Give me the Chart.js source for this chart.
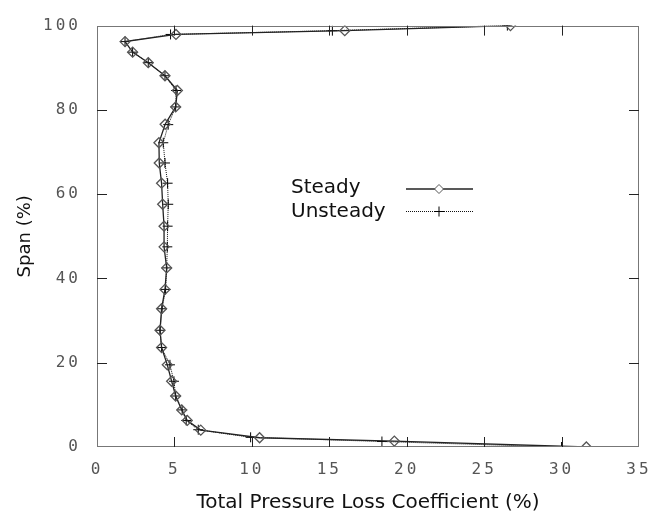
<!DOCTYPE html>
<html>
<head>
<meta charset="utf-8">
<title>Total Pressure Loss Coefficient vs Span</title>
<script src="https://cdn.jsdelivr.net/npm/chart.js@4/dist/chart.umd.min.js"></script>
<style>
  html, body { margin: 0; padding: 0; background: #fff; }
  #wrap { width: 672px; height: 515px; }
</style>
</head>
<body>
<div id="wrap"><canvas id="c" width="672" height="515"></canvas></div>
<script>
// Spanwise stations (% span) and loss coefficient (%) for each case
const steadySpan = [0, 1.4, 2.2, 4.0, 6.3, 8.8, 12.1, 15.6, 19.5, 23.6, 27.7, 32.8, 37.4, 42.5, 47.5, 52.4, 57.6, 62.6, 67.4, 72.2, 76.6, 80.7, 84.6, 88.1, 91.2, 93.7, 96.2, 97.9, 98.8, 100];
const steadyLoss = [31.6, 19.2, 10.5, 6.7, 5.83, 5.47, 5.08, 4.82, 4.54, 4.17, 4.07, 4.17, 4.39, 4.5, 4.33, 4.33, 4.24, 4.17, 4.02, 4.0, 4.4, 5.08, 5.19, 4.39, 3.31, 2.3, 1.81, 5.1, 16.0, 26.7];

const unsteadySpan = [0, 1.3, 2.3, 4.1, 6.3, 8.8, 12.1, 15.6, 19.5, 23.6, 27.7, 32.8, 37.4, 42.5, 47.5, 52.4, 57.6, 62.6, 67.4, 72.2, 76.5, 80.7, 84.6, 88.1, 91.2, 93.7, 96.2, 97.9, 98.8, 100];
const unsteadyLoss = [30.0, 18.4, 9.92, 6.54, 5.76, 5.5, 5.08, 4.97, 4.71, 4.17, 4.07, 4.2, 4.43, 4.5, 4.54, 4.56, 4.6, 4.56, 4.39, 4.28, 4.6, 5.08, 5.1, 4.39, 3.31, 2.3, 1.81, 4.75, 15.2, 26.5];

const seriesNames = ['Steady', 'Unsteady'];
const xTitle = 'Total Pressure Loss Coefficient (%)';
const yTitle = 'Span (%)';

const toPoints = (xs, ys) => xs.map((x, i) => ({ x: x, y: ys[i] }));

// Frame, inward ticks on all four sides, tick-label spacing and the inset key
const framePlugin = {
  id: 'frame',
  beforeDraw(chart) { chart.ctx.letterSpacing = '0px'; },
  afterDatasetsDraw(chart) { chart.ctx.letterSpacing = '3px'; },
  afterDraw(chart) {
    const ctx = chart.ctx;
    ctx.letterSpacing = '0px';
    const a = chart.chartArea;
    const xs = chart.scales.x, ys = chart.scales.y;
    ctx.save();
    ctx.strokeStyle = '#777';
    ctx.lineWidth = 1;
    ctx.strokeRect(Math.round(a.left) + 0.5, Math.round(a.top) + 0.5,
                   Math.round(a.right - a.left) - 1, Math.round(a.bottom - a.top) - 1);
    ctx.strokeStyle = '#222';
    ctx.beginPath();
    const L = 10;
    xs.ticks.forEach(t => {
      const px = Math.round(xs.getPixelForValue(t.value)) + 0.5;
      if (t.value <= xs.min || t.value >= xs.max) return;
      ctx.moveTo(px, a.bottom); ctx.lineTo(px, a.bottom - L);
      ctx.moveTo(px, a.top); ctx.lineTo(px, a.top + L);
    });
    ys.ticks.forEach(t => {
      const py = Math.round(ys.getPixelForValue(t.value)) + 0.5;
      if (t.value <= ys.min || t.value >= ys.max) return;
      ctx.moveTo(a.left, py); ctx.lineTo(a.left + L, py);
      ctx.moveTo(a.right, py); ctx.lineTo(a.right - L, py);
    });
    ctx.stroke();

    // key
    const rows = [{ y: 189, ty: 193 }, { y: 211.5, ty: 216.5 }];
    ctx.font = '20px "DejaVu Sans"';
    ctx.textAlign = 'left';
    ctx.textBaseline = 'alphabetic';
    chart.data.datasets.forEach((ds, i) => {
      const r = rows[i];
      ctx.fillStyle = '#111';
      ctx.fillText(ds.label, 291, r.ty);
      ctx.save();
      ctx.strokeStyle = ds.borderColor;
      ctx.lineWidth = ds.borderWidth;
      ctx.setLineDash(ds.borderDash || []);
      ctx.beginPath();
      ctx.moveTo(406, r.y); ctx.lineTo(473, r.y);
      ctx.stroke();
      ctx.restore();
      ctx.save();
      ctx.strokeStyle = ds.pointBorderColor;
      ctx.fillStyle = '#fff';
      ctx.lineWidth = 1;
      Chart.helpers.drawPoint(ctx, {
        pointStyle: ds.pointStyle, radius: ds.legendRadius,
        borderWidth: 1, rotation: 0
      }, 439, r.y);
      ctx.restore();
    });
    ctx.restore();
  }
};

const tickFont = { family: '"DejaVu Sans Mono", monospace', size: 16 };

new Chart(document.getElementById('c'), {
  type: 'line',
  data: {
    datasets: [
      {
        label: seriesNames[0],
        data: toPoints(steadyLoss, steadySpan),
        borderColor: '#222',
        borderWidth: 1.3,
        pointStyle: 'rectRot',
        pointRadius: 5,
        legendRadius: 4.5,
        pointBorderColor: '#555',
        pointBackgroundColor: 'rgba(255,255,255,0)',
        pointBorderWidth: 1.3,
        tension: 0,
        fill: false
      },
      {
        label: seriesNames[1],
        data: toPoints(unsteadyLoss, unsteadySpan),
        borderColor: '#111',
        borderWidth: 1,
        borderDash: [1, 1],
        pointStyle: 'cross',
        pointRadius: 5,
        legendRadius: 5,
        pointBorderColor: '#000',
        pointBackgroundColor: '#000',
        pointBorderWidth: 1,
        tension: 0,
        fill: false
      }
    ]
  },
  options: {
    responsive: false,
    animation: false,
    devicePixelRatio: 1,
    layout: { padding: { left: 0, top: 17, right: 33, bottom: 0 } },
    plugins: { legend: { display: false }, tooltip: { enabled: false } },
    elements: { point: { hoverRadius: 5 } },
    scales: {
      x: {
        type: 'linear',
        min: 0, max: 35,
        grid: { display: false, drawTicks: false },
        border: { display: false },
        ticks: { stepSize: 5, font: tickFont, color: '#555', padding: 13, z: 1, maxRotation: 0 },
        title: { display: true, text: xTitle, font: { family: '"DejaVu Sans", sans-serif', size: 20 },
                 color: '#111', padding: { top: 0, bottom: 0 } },
        afterFit(s) { s.height = 68; }
      },
      y: {
        type: 'linear',
        min: 0, max: 100,
        grid: { display: false, drawTicks: false },
        border: { display: false },
        ticks: { stepSize: 20, font: tickFont, color: '#555', padding: 16, z: 1 },
        title: { display: true, text: yTitle, font: { family: '"DejaVu Sans", sans-serif', size: 18 },
                 color: '#111', padding: { top: 15, bottom: 0 } },
        afterFit(s) { s.width = 97; }
      }
    }
  },
  plugins: [framePlugin]
});
</script>
</body>
</html>
